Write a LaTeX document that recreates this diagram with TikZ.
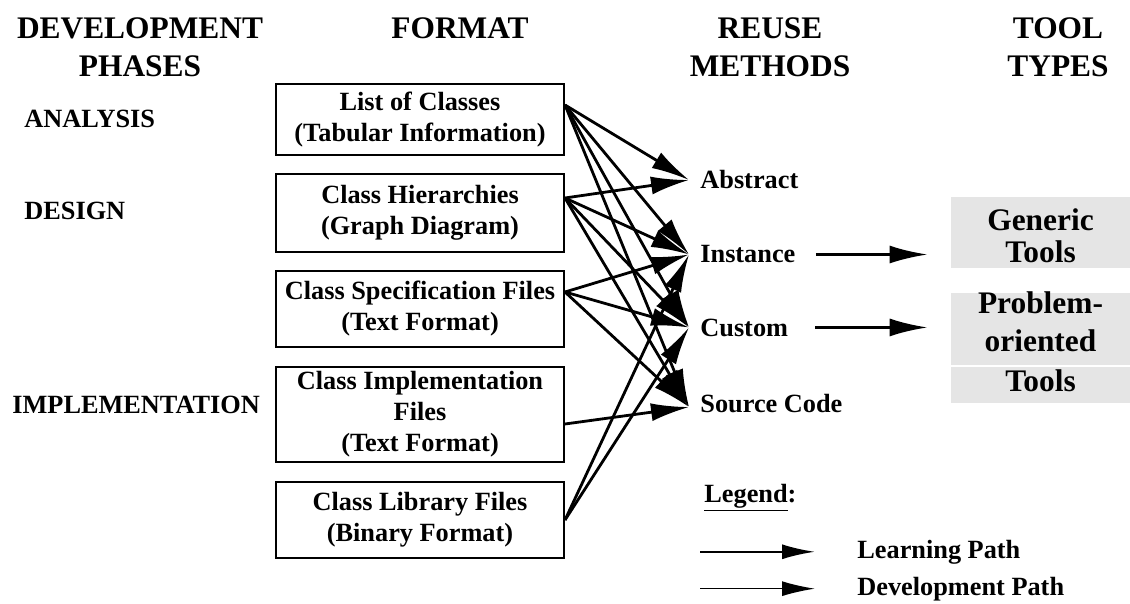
\documentclass[tikz,border=0pt]{standalone}
\usepackage{fontspec}
\setmainfont{Liberation Serif}
\usetikzlibrary{arrows.meta}
\definecolor{toolgray}{gray}{0.9}
\tikzset{
	head/.style={font=\fontsize{15.7pt}{19pt}\selectfont\bfseries, align=center, inner sep=0pt},
	txt/.style={font=\fontsize{13.15pt}{16pt}\selectfont\bfseries, inner sep=1pt},
	fmtbox/.style={draw, line width=1pt, minimum width=144pt, inner sep=0pt, align=center, font=\fontsize{13.15pt}{15.5pt}\selectfont\bfseries},
	toolbox/.style={fill=toolgray, minimum width=89.5pt, inner sep=0pt, text depth=0pt, align=center, font=\fontsize{15.7pt}{19pt}\selectfont\bfseries},
	reuse/.style={line width=1.4pt, -{Latex[length=19pt,width=9pt]}},
	learnpath/.style={line width=1.2pt, -{Latex[length=16.5pt,width=7.5pt]}},
	devpath/.style={line width=0.8pt, -{Latex[length=16.5pt,width=7.5pt]}}
}
\begin{document}
\begin{tikzpicture}[x=0.5pt,y=-0.5pt]
	\useasboundingbox (0,0) rectangle (1130,604);
	% column heads
	\node[head, anchor=base] (phases) at (140,77) {DEVELOPMENT\\PHASES};
	\node[head, anchor=base] (format) at (460,39) {FORMAT};
	\node[head, anchor=base] (methods) at (770,77) {REUSE\\METHODS};
	\node[head, anchor=base] (types) at (1058,77) {TOOL\\TYPES};
	
	\node[txt, anchor=base west] (ana) at (22,128) {ANALYSIS};
	\node[txt, anchor=base west] (des) at (22,220) {DESIGN};
	\node[txt, anchor=base west] (imp) at (10,413) {IMPLEMENTATION};
	
	% formats
	\node[fmtbox, minimum height=35.5pt] (lst) at (420,119.5) {List of Classes\\(Tabular Information)};
	\node[fmtbox, minimum height=39pt] (hier) at (420,213) {Class Hierarchies\\(Graph Diagram)};
	\node[fmtbox, minimum height=38pt] (spec) at (420,309) {Class Specification Files\\(Text Format)};
	\node[fmtbox, minimum height=47.5pt] (impl) at (420,414.5) {Class Implementation\\Files\\(Text Format)};
	\node[fmtbox, minimum height=38pt] (lib) at (420,520) {Class Library Files\\(Binary Format)};
	
	% reuse methods
	\node[txt, anchor=base west] (abs) at (698,189) {Abstract};
	\node[txt, anchor=base west] (inst) at (698,263) {Instance};
	\node[txt, anchor=base west] (cust) at (698,336) {Custom};
	\node[txt, anchor=base west] (src) at (698,412) {Source Code};
	
	% tool types
	\node[toolbox, text height=30pt, minimum height=35.5pt] (gen) at (1040.5,232.5) {Generic\\[-3pt]Tools};
	\node[toolbox, text height=22pt, minimum height=36pt] (prob) at (1040.5,329) {Problem-\\oriented};
	\node[toolbox, text height=7pt, minimum height=18pt] (probtools) at (1040.5,385) {Tools};
	
	\coordinate (lstout) at ([yshift=7.25pt]lst.east);
	\coordinate (hierout) at ([yshift=7.5pt]hier.east);
	\coordinate (specout) at ([yshift=8.5pt]spec.east);
	\coordinate (implout) at ([yshift=-4.75pt]impl.east);
	\coordinate (libout) at (lib.east);
	\coordinate (absin) at ([xshift=-4.5pt]abs.west);
	\coordinate (instin) at ([xshift=-4.5pt]inst.west);
	\coordinate (custin) at ([xshift=-4.5pt]cust.west);
	\coordinate (srcin) at ([xshift=-4.5pt,yshift=-2pt]src.west);
	
	\foreach \a/\b in {lstout/absin, lstout/instin, lstout/custin, lstout/srcin,
		hierout/absin, hierout/instin, hierout/custin, hierout/srcin,
		specout/instin, specout/custin, specout/srcin,
		implout/srcin, libout/instin, libout/custin}
		\draw[reuse] (\a) -- (\b);
	
	\draw[reuse, shorten <=9pt, shorten >=11.5pt] (inst.east) -- (inst.east -| gen.west);
	\draw[reuse, shorten <=12.5pt, shorten >=11.5pt] (cust.east) -- (cust.east -| prob.west);
	
	% legend
	\node[txt, anchor=base west] (leg) at (702,502) {\underline{Legend}:};
	\node[txt, anchor=base west] (lp) at (855,558) {Learning Path};
	\node[txt, anchor=base west] (dp) at (855,595) {Development Path};
	\coordinate (lpstart) at ([xshift=-77.5pt]lp.west);
	\coordinate (dpstart) at ([xshift=-77.5pt]dp.west);
	\draw[learnpath, shorten >=20pt] (lpstart) -- (lp.west);
	\draw[devpath, shorten >=20pt] (dpstart) -- (dp.west);
\end{tikzpicture}
\end{document}
